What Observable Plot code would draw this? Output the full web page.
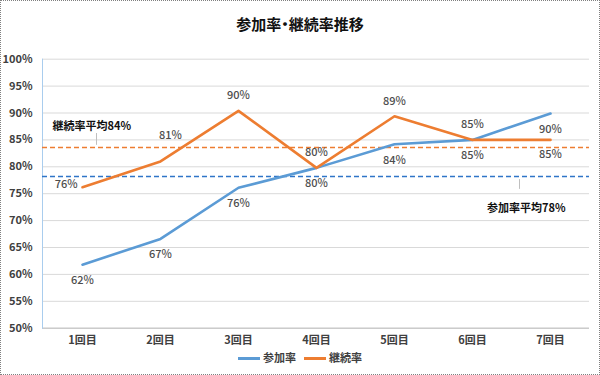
<!DOCTYPE html>
<html><head><meta charset="utf-8">
<script src="https://cdn.jsdelivr.net/npm/d3@7"></script>
<script src="https://cdn.jsdelivr.net/npm/@observablehq/plot@0.6"></script>
<style>
body{margin:0;background:#fff;font-family:"Noto Sans CJK JP","Noto Sans",sans-serif;}
#wrap{position:relative;width:600px;height:375px;overflow:hidden;background:#fff;}
#border{position:absolute;left:0;top:0;width:600px;height:375px;box-sizing:border-box;border:1px dotted #808080;pointer-events:none;}
#title{position:absolute;left:0;top:14px;width:600px;text-align:center;font-size:15px;font-weight:bold;color:#111;line-height:20px;font-feature-settings:"palt";}
#chart{position:absolute;left:0;top:40px;}
#legend{position:absolute;left:0;top:349px;width:600px;display:flex;justify-content:center;gap:8px;font-size:11px;font-weight:bold;color:#404040;line-height:16px;}
.sw{display:inline-block;width:22px;height:3px;vertical-align:middle;margin-right:3px;position:relative;top:-1px;}
</style></head>
<body>
<div id="wrap">
  <div id="title"></div>
  <div id="chart"></div>
  <div id="legend"></div>
  <div id="border"></div>
</div>
<script>
const titleText = "参加率・継続率推移";
const categories = ["1回目","2回目","3回目","4回目","5回目","6回目","7回目"];
const seriesNames = ["参加率","継続率"];
const participation = [61.8, 66.6, 76.1, 79.8, 84.2, 85.0, 89.9];
const continuation = [76.2, 81.0, 90.4, 79.8, 89.4, 85.0, 85.0];
const avgValues = [78.2, 83.6];
const avgLabels = ["参加率平均78%", "継続率平均84%"];
const yTicks = [50,55,60,65,70,75,80,85,90,95,100];

const colors = ["#5B9BD5", "#ED7D31"];
const avgColors = ["#2F75C8", "#ED7D31"];

document.getElementById("title").textContent = titleText;

const partRows = categories.map((c,i)=>({cat:c, series:seriesNames[0], value:participation[i], i}));
const contRows = categories.map((c,i)=>({cat:c, series:seriesNames[1], value:continuation[i], i}));
const rows = partRows.concat(contRows);
const avgRows = seriesNames.map((s,i)=>({series:s, value:avgValues[i], label:avgLabels[i], color:avgColors[i]}));
const last = categories.length - 1;
const fmt = v => Math.round(v) + "%";
const labelStyle = {fill:"#4d4d4d", fontSize:11, fontWeight:500, text: d=>fmt(d.value)};

const leader = {draw(ctx, l){ ctx.moveTo(0,0); ctx.lineTo(0,-l); }};

const chart = Plot.plot({
  width: 600,
  height: 315,
  marginLeft: 42,
  marginRight: 11,
  marginTop: 18.7,
  marginBottom: 27.3,
  style: {fontFamily: '"Noto Sans CJK JP","Noto Sans",sans-serif', background: "transparent", overflow: "visible"},
  x: {type: "point", domain: categories, padding: 0.5, label: null},
  y: {domain: [50, 100], label: null},
  color: {domain: seriesNames, range: colors},
  marks: [
    Plot.gridY(yTicks, {stroke: "#d9d9d9", strokeOpacity: 1}),
    Plot.ruleY([50], {stroke: "#bfbfbf"}),
    Plot.frame({anchor: "left", stroke: "#a9cdee"}),
    Plot.axisY(yTicks, {tickSize: 0, tickPadding: 10, tickFormat: d => d + "%", fontSize: 11, fontWeight: "bold", fill: "#404040", label: null}),
    Plot.axisX({tickSize: 0, tickPadding: 8, fontSize: 11, fontWeight: "bold", fill: "#404040", label: null}),
    Plot.ruleY(avgRows, {y: "value", stroke: "color", strokeDasharray: "5,3", strokeWidth: 1.5}),
    Plot.line(rows, {x: "cat", y: "value", z: "series", stroke: "series", strokeWidth: 2.6, strokeLinejoin: "round"}),
    Plot.text(partRows, {x: "cat", y: "value", dy: 16, ...labelStyle}),
    Plot.text(contRows, {filter: d => d.i > 1 && d.i < last, x: "cat", y: "value", dy: -15, ...labelStyle}),
    Plot.text(contRows, {filter: d => d.i === 1, x: "cat", y: "value", dx: 10, dy: -26, ...labelStyle}),
    Plot.text(contRows, {filter: d => d.i === 0, x: "cat", y: "value", dx: -5, dy: -3, textAnchor: "end", ...labelStyle}),
    Plot.text(contRows, {filter: d => d.i === last, x: "cat", y: "value", dy: 15, ...labelStyle}),
    // average annotations
    Plot.text([avgRows[1]], {x: () => categories[0], y: "value", text: "label", dx: -30, dy: -21, textAnchor: "start", fontWeight: "bold", fontSize: 11, fill: "#111"}),
    Plot.vector([avgRows[1]], {x: () => categories[0], y: "value", dx: 14, dy: -3, length: 11, anchor: "start", shape: leader, stroke: "#bfbfbf", strokeWidth: 1}),
    Plot.text([avgRows[0]], {x: () => categories[last], y: "value", text: "label", dx: 15, dy: 32, textAnchor: "end", fontWeight: "bold", fontSize: 11, fill: "#111"}),
    Plot.vector([avgRows[0]], {x: () => categories[last], y: "value", dx: -31, dy: 3, length: 9, rotate: 180, anchor: "start", shape: leader, stroke: "#bfbfbf", strokeWidth: 1})
  ]
});
document.getElementById("chart").appendChild(chart);

const legend = document.getElementById("legend");
seriesNames.forEach((s,i)=>{
  const item = document.createElement("span");
  const sw = document.createElement("span");
  sw.className = "sw";
  sw.style.background = colors[i];
  item.appendChild(sw);
  item.appendChild(document.createTextNode(s));
  legend.appendChild(item);
});
</script>
</body></html>
